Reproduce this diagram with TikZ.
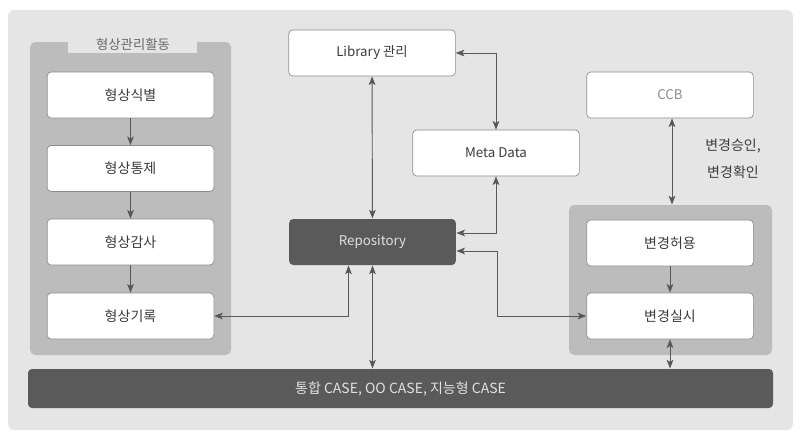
\documentclass[tikz,border=0pt]{standalone}
\usepackage{fontspec}
\setmainfont{Noto Sans CJK KR}
\usepackage{tikz}
\usetikzlibrary{arrows.meta,calc}
\definecolor{bgGray}{RGB}{229,229,229}
\definecolor{grpGray}{RGB}{188,188,188}
\definecolor{darkGray}{RGB}{90,90,90}
\definecolor{lineGray}{RGB}{88,88,88}
\definecolor{edgeGray}{RGB}{140,140,140}
\definecolor{txtGray}{RGB}{60,60,60}
\tikzset{every picture/.style={line width=0.75pt}}
\tikzset{
box/.style={draw=edgeGray, line width=0.5pt, fill=white, rounded corners=3pt, minimum width=125pt, minimum height=34.5pt, inner sep=0pt, text=txtGray, font=\fontsize{10.5}{12}\selectfont},
darkbox/.style={fill=darkGray, rounded corners=3pt, inner sep=0pt, text={rgb,255:red,225;green,225;blue,225}, font=\fontsize{10}{12}\selectfont},
group/.style={fill=grpGray, rounded corners=4pt, inner sep=0pt},
arr/.style={draw=lineGray, line width=0.7pt, >={Stealth[length=6.5pt,width=5pt,inset=1.5pt]}}}

\begin{document}
\begin{tikzpicture}[x=0.75pt,y=0.75pt,yscale=-1,xscale=1]
\useasboundingbox (0,0) rectangle (800,436);

%Background
\fill [bgGray, rounded corners=5pt] (8,10) rectangle (793,430);

%Groups
\node [group, minimum width=150.75pt, minimum height=234.75pt] (grpL) at (130.5,198.5) {};
\node [group, minimum width=152.25pt, minimum height=112.5pt] (grpR) at (670.5,280) {};
\fill [bgGray] (68,40) rectangle (197,53);
% Text Node
\node [text={rgb,255:red,105;green,105;blue,105}, font=\fontsize{10}{12}\selectfont, inner sep=0pt] (grpTitle) at (133,44) {형상관리활동};

%Left boxes
\node [box] (ident) at (130.5,95) {형상식별};
\node [box] (ctrl) at (130.5,168.5) {형상통제};
\node [box] (audit) at (130.5,242) {형상감사};
\node [box] (rec) at (130.5,316) {형상기록};

%Middle boxes
\node [box, font=\fontsize{10}{12}\selectfont] (lib) at (372,53) {Library 관리};
\node [box, font=\fontsize{10}{12}\selectfont] (meta) at (496,153) {Meta Data};
\node [darkbox, minimum width=125pt, minimum height=34.5pt] (repo) at (372.5,242) {Repository};

%Right boxes
\node [box, text={rgb,255:red,140;green,140;blue,140}, font=\fontsize{10}{12}\selectfont] (ccb) at (670,95) {CCB};
\node [box] (perm) at (670,243) {변경허용};
\node [box] (exec) at (670,316) {변경실시};
% Text Node
\node [text=txtGray, font=\fontsize{10.5}{20}\selectfont, align=center, inner sep=0pt] (appr) at (733,159) {변경승인,\\변경확인};

%Bottom bar
\node [darkbox, minimum width=558.75pt, minimum height=29.25pt, font=\fontsize{10.5}{12}\selectfont] (bar) at (400.5,388.5) {통합 CASE, OO CASE, 지능형 CASE};

\coordinate (ccbFoot) at ($(ccb.south)+(2,0)$);
\coordinate (recTurn) at ($(repo.south)+(-24,0)$);

%Straight Lines
\draw [arr, ->] (ident) -- (ctrl);
\draw [arr, ->] (ctrl) -- (audit);
\draw [arr, ->] (audit) -- (rec);
\draw [arr, <->] (lib) -- (repo);
\draw [arr, <->] (lib.east) -| (meta.north);
\draw [arr, <->] ($(repo.east)+(0,-9)$) -| (meta.south);
\draw [arr, <->] ($(repo.east)+(0,9)$) -- ++(41,0) |- (exec.west);
\draw [arr, <->] (rec.east) -| (recTurn);
\draw [arr, <->] (repo.south) -- (repo.south |- bar.north);
\draw [arr, <->] (ccbFoot) -- (ccbFoot |- grpR.north);
\draw [arr, ->] (perm) -- (exec);
\draw [arr, <->] (exec.south) -- (exec.south |- bar.north);

\end{tikzpicture}
\end{document}
